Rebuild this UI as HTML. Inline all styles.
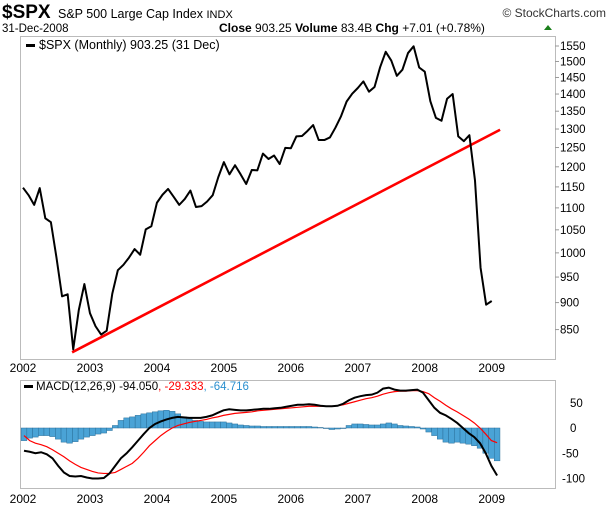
<!DOCTYPE html>
<html><head><meta charset="utf-8">
<style>
body{margin:0;background:#fff;font-family:"Liberation Sans",Arial,sans-serif;}
svg{display:block}
text{font-family:"Liberation Sans",Arial,sans-serif;}
</style></head>
<body>
<svg id="c" width="612" height="509">
<text x="2" y="18" font-size="19" font-weight="bold">$SPX</text>
<text x="58" y="18" font-size="12.5">S&amp;P 500 Large Cap Index <tspan font-size="11">INDX</tspan></text>
<text x="606" y="17" font-size="12" text-anchor="end" fill="#333">© StockCharts.com</text>
<text x="2" y="32" font-size="11.5">31-Dec-2008</text>
<text x="219" y="32" font-size="12"><tspan font-weight="bold">Close</tspan> 903.25 <tspan font-weight="bold">Volume</tspan> 83.4B <tspan font-weight="bold">Chg</tspan> +7.01 (+0.78%)</text>
<path d="M544 30 l4 -5 l4 5z" fill="#1a7f1a"/>
<g id="price"></g>
<g id="macd"></g>
</svg>
<script>
const years=["2002","2003","2004","2005","2006","2007","2008","2009"];
const closes=[1148,1130,1107,1147,1076,1067,990,912,916,815,886,936,880,
856,841,848,917,964,975,990,1008,996,1051,1058,1112,
1131,1145,1126,1107,1121,1141,1102,1104,1115,1130,1174,1212,
1181,1204,1181,1157,1192,1191,1234,1220,1229,1207,1249,1248,
1280,1281,1295,1311,1270,1270,1277,1304,1336,1378,1401,1418,
1438,1407,1421,1482,1531,1503,1455,1474,1527,1549,1481,1468,
1379,1331,1323,1386,1400,1280,1267,1283,1166,969,896,903];
const priceTicks=[850,900,950,1000,1050,1100,1150,1200,1250,1300,1350,1400,1450,1500,1550];
const trendIdx=[8.8,85.5];
const trendVal=[810,1298];
const macdLine=[-45,-47,-50,-48,-52,-60,-75,-88,-95,-96,-95,-98,
-100,-100,-99,-90,-75,-60,-50,-38,-25,-12,0,8,
13,17,20,22,21,20,20,20,22,25,30,35,
37,36,35,35,36,37,38,38,39,40,42,44,
46,46,47,46,44,43,43,44,48,55,60,63,
65,66,70,78,80,76,74,74,75,76,70,55,
40,30,25,18,10,0,-10,-18,-30,-50,-75,-94];
const signalLine=[-15,-25,-30,-33,-37,-43,-50,-57,-65,-72,-78,-82,
-86,-89,-90,-90,-88,-82,-76,-70,-60,-48,-35,-25,
-15,-7,0,5,8,11,13,15,17,20,22,25,
27,29,30,31,32,34,35,36,37,38,39,40,
41,42,43,43,43,43,43,44,46,49,52,55,
58,60,63,67,70,72,73,73,74,74,72,68,
60,53,45,38,32,25,18,10,0,-12,-25,-29];
const histVals=[-25,-20,-18,-15,-15,-17,-22,-28,-30,-27,-22,-18,
-15,-12,-10,-5,5,15,20,22,25,28,30,32,
34,35,33,28,22,18,15,13,12,12,12,12,
10,8,6,5,4,4,3,3,3,3,3,3,
3,3,3,2,1,0,-3,-2,0,5,8,8,
7,6,6,8,10,8,5,4,3,2,-2,-8,
-15,-22,-28,-30,-28,-30,-32,-35,-40,-50,-60,-65];
const macdTicks=[-100,-50,0,50];

const NS="http://www.w3.org/2000/svg";
function mk(p,t,a){const e=document.createElementNS(NS,t);for(const k in a)e.setAttribute(k,a[k]);p.appendChild(e);return e;}
const X0=23, MW=5.58;
const xm=i=>X0+MW*i;
const yP=v=>46+472*Math.log(1550/v);
const yM=v=>428-0.505*v;
const P=document.getElementById('price'), M=document.getElementById('macd');

let r=mk(P,'rect',{x:20.5,y:36.5,width:535,height:323,fill:'#fff',stroke:'#bbb'});


priceTicks.forEach(v=>{
 const y=yP(v);
 let l=mk(P,'line',{x1:555,x2:559,y1:y,y2:y,stroke:'#999'});
 
 
 let t=mk(P,'text',{x:560,y:y+4,'font-size':11.5});t.textContent=v;
 
 
});
years.forEach((yr,k)=>{
 let t=mk(P,'text',{x:xm(k*12),y:372,'font-size':12,'text-anchor':'middle'});t.textContent=yr;
 
 
});
let tl=mk(P,'line',{x1:xm(trendIdx[0]),y1:yP(trendVal[0]),x2:xm(trendIdx[1]),y2:yP(trendVal[1]),stroke:'#f00','stroke-width':2.6});


let pl=mk(P,'polyline',{points:closes.map((v,i)=>xm(i)+','+yP(v)).join(' '),fill:'none',stroke:'#000','stroke-width':2,'stroke-linejoin':'round'});


mk(P,'rect',{x:26,y:44,width:9,height:3,fill:'#000'});
let lg=mk(P,'text',{x:39,y:49,'font-size':12.5});
lg.textContent='$SPX (Monthly) 903.25 (31 Dec)';



let r2=mk(M,'rect',{x:20.5,y:380.5,width:535,height:108,fill:'#fff',stroke:'#bbb'});


macdTicks.forEach(v=>{
 const y=yM(v);
 let t=mk(M,'text',{x:v<0?562:570,y:y+4,'font-size':11.5});t.textContent=v;
 
 
});
const HW=5.7;
const xh=i=>24+HW*i;
histVals.forEach((v,i)=>{
 const y0=yM(0),y1=yM(v);
 let b=mk(M,'rect',{x:xh(i)-2.85,y:Math.min(y0,y1),width:HW,height:Math.abs(y1-y0)||0.5,fill:'#4aa3d6',stroke:'#2a6f9a','stroke-width':0.5});
 
 
});
let sl=mk(M,'polyline',{points:signalLine.map((v,i)=>xh(i)+','+yM(v)).join(' '),fill:'none',stroke:'#f00','stroke-width':1.2});


let ml=mk(M,'polyline',{points:macdLine.map((v,i)=>xh(i)+','+yM(v)).join(' '),fill:'none',stroke:'#000','stroke-width':2});


mk(M,'rect',{x:24,y:385,width:9,height:3,fill:'#000'});
let ml2=mk(M,'text',{x:36,y:390,'font-size':11.5});
ml2.innerHTML='MACD(12,26,9) -94.050<tspan fill="#f00">, -29.333</tspan><tspan fill="#2a8fcf">, -64.716</tspan>';


years.forEach((yr,k)=>{
 let t=mk(M,'text',{x:xm(k*12),y:503,'font-size':12,'text-anchor':'middle'});t.textContent=yr;
 
 
});
</script>
</body></html>
